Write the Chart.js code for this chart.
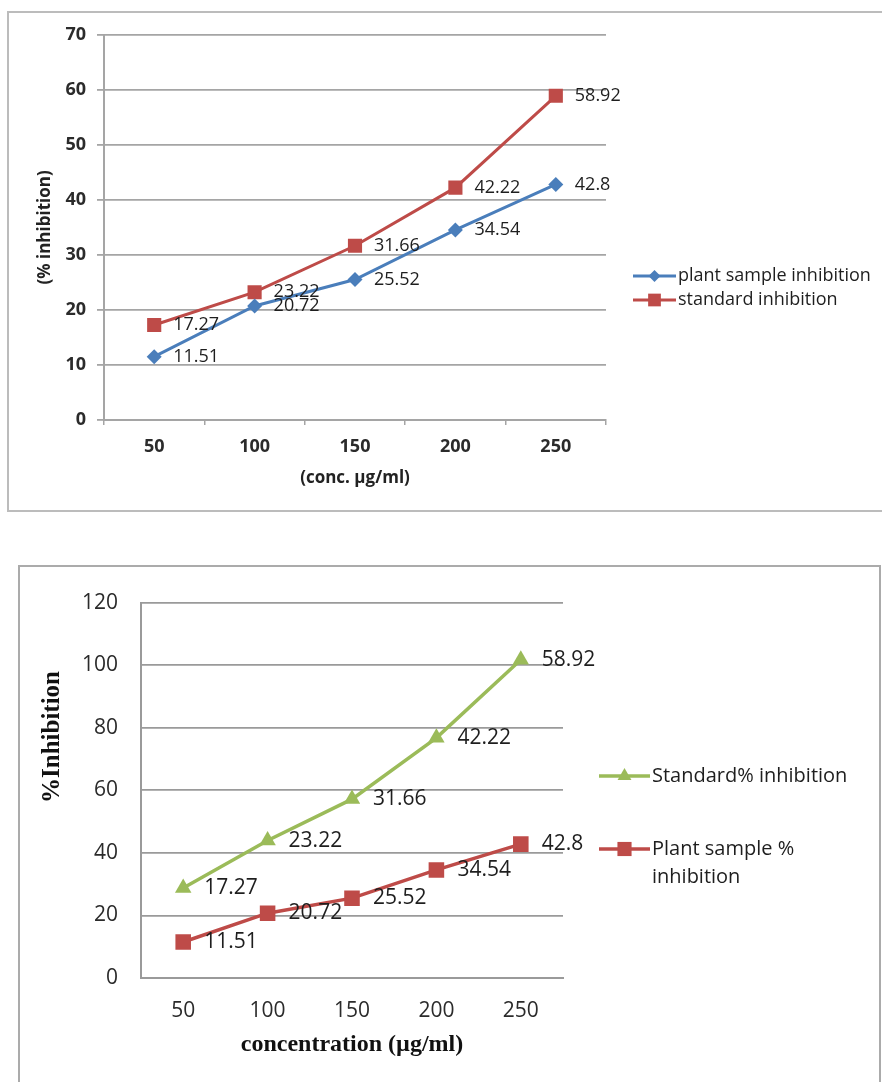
<!DOCTYPE html>
<html>
<head>
<meta charset="utf-8">
<title>% inhibition vs concentration</title>
<script src="https://cdn.jsdelivr.net/npm/chart.js@4.4.1/dist/chart.umd.min.js"></script>
<style>
  html, body { margin: 0; padding: 0; background: #fff; overflow: hidden; width: 882px; height: 1082px; }
  .frame { position: absolute; box-sizing: content-box; border: 2px solid #bcbcbc; background: #fff; }
  #frameTop { left: 7px; top: 11px; width: 878px; height: 497px; }
  #frameBottom { left: 18px; top: 565px; width: 859px; height: 520px; border-color: #ababab; }
  .frame canvas { display: block; }
</style>
</head>
<body>
<div class="frame" id="frameTop"><canvas id="chartTop" width="878" height="497"></canvas></div>
<div class="frame" id="frameBottom"><canvas id="chartBottom" width="859" height="520"></canvas></div>

<script>
// ---- data ----
const concentrations = ['50', '100', '150', '200', '250'];

// first graph
const plantSampleInhibition = [11.51, 20.72, 25.52, 34.54, 42.8];
const standardInhibition = [17.27, 23.22, 31.66, 42.22, 58.92];
const yAxisTop = [0, 70, 10];      // min, max, step

// second graph (standard series is stacked on top of the plant sample series)
const plantSamplePercent = [11.51, 20.72, 25.52, 34.54, 42.8];
const standardPercent = [17.27, 23.22, 31.66, 42.22, 58.92];
const yAxisBottom = [0, 120, 20];  // min, max, step

// ---- look ----
const SANS = "'Open Sans', 'DejaVu Sans', sans-serif";
const SERIF = "'Liberation Serif', 'Times New Roman', serif";
const BLUE = '#4a7ebb';
const RED = '#be4b48';
const GREEN = '#9bbb59';

function marker(ctx, style, radius, x, y) {
  if (Chart.helpers && Chart.helpers.drawPoint) {
    Chart.helpers.drawPoint(ctx, { pointStyle: style, radius: radius, rotation: 0, borderWidth: 0 }, x, y);
    return;
  }
  ctx.beginPath();
  if (style === 'rect') {
    const s = radius * Math.SQRT1_2;
    ctx.rect(x - s, y - s, 2 * s, 2 * s);
  } else if (style === 'rectRot') {
    ctx.moveTo(x, y - radius); ctx.lineTo(x + radius, y);
    ctx.lineTo(x, y + radius); ctx.lineTo(x - radius, y);
  } else {
    const a = radius * Math.cos(Math.PI / 6);
    ctx.moveTo(x, y - radius); ctx.lineTo(x + a, y + radius / 2); ctx.lineTo(x - a, y + radius / 2);
  }
  ctx.closePath();
  ctx.fill();
}

// value text beside each point
const valueLabels = {
  id: 'valueLabels',
  afterDatasetsDraw(chart, args, opts) {
    const ctx = chart.ctx;
    ctx.save();
    ctx.font = opts.font;
    ctx.fillStyle = opts.color;
    ctx.textAlign = 'left';
    ctx.textBaseline = 'middle';
    chart.data.datasets.forEach((ds, di) => {
      const meta = chart.getDatasetMeta(di);
      meta.data.forEach((pt, i) => {
        ctx.fillText(String(ds.data[i]), pt.x + opts.dx, pt.y + opts.dy);
      });
    });
    ctx.restore();
  }
};

// legend with a short line through the marker
const lineLegend = {
  id: 'lineLegend',
  afterDraw(chart, args, opts) {
    const ctx = chart.ctx;
    ctx.save();
    ctx.font = opts.font;
    ctx.textAlign = 'left';
    ctx.textBaseline = 'middle';
    opts.items.forEach((item) => {
      const ds = chart.data.datasets[item.dataset];
      ctx.strokeStyle = ds.borderColor;
      ctx.lineWidth = ds.borderWidth;
      ctx.beginPath();
      ctx.moveTo(opts.x0, item.y);
      ctx.lineTo(opts.x1, item.y);
      ctx.stroke();
      ctx.fillStyle = ds.pointBackgroundColor;
      marker(ctx, ds.pointStyle, item.r, (opts.x0 + opts.x1) / 2, item.y);
      ctx.fillStyle = opts.color;
      item.text.forEach((t, k) => ctx.fillText(t, opts.textX, item.y + k * opts.lineGap));
    });
    ctx.restore();
  }
};

// free-standing rotated axis caption
const axisCaption = {
  id: 'axisCaption',
  afterDraw(chart, args, opts) {
    if (!opts.text) return;
    const ctx = chart.ctx;
    ctx.save();
    ctx.translate(opts.x, opts.y);
    ctx.rotate(-Math.PI / 2);
    ctx.font = opts.font;
    ctx.fillStyle = opts.color;
    ctx.textAlign = 'center';
    ctx.textBaseline = 'middle';
    ctx.fillText(opts.text, 0, 0);
    ctx.restore();
  }
};

// ---- first graph ----
new Chart(document.getElementById('chartTop'), {
  type: 'line',
  data: {
    labels: concentrations,
    datasets: [
      {
        label: 'plant sample inhibition',
        data: plantSampleInhibition,
        borderColor: BLUE, backgroundColor: BLUE, pointBackgroundColor: BLUE,
        borderWidth: 3, pointStyle: 'rectRot', pointRadius: 7.5, pointBorderWidth: 0,
        tension: 0, fill: false
      },
      {
        label: 'standard inhibition',
        data: standardInhibition,
        borderColor: RED, backgroundColor: RED, pointBackgroundColor: RED,
        borderWidth: 3, pointStyle: 'rect', pointRadius: 10, pointBorderWidth: 0,
        tension: 0, fill: false
      }
    ]
  },
  options: {
    responsive: false,
    animation: false,
    layout: { padding: { left: 0, top: 21, right: 281, bottom: 0 } },
    scales: {
      x: {
        offset: true,
        grid: { display: true, drawOnChartArea: false, drawTicks: true, tickLength: 5, offset: true, color: '#a5a5a5', lineWidth: 1.5 },
        border: { display: true, color: '#a5a5a5', width: 2 },
        ticks: { color: '#2b2b2b', font: { family: SANS, size: 18, weight: 'bold' }, padding: 11, maxRotation: 0 },
        title: { display: true, text: '(conc. µg/ml)', color: '#222', font: { family: SANS, size: 17, weight: 'bold' }, padding: { top: 0, bottom: 22 } },
        afterFit(scale) { scale.height = 90; }
      },
      y: {
        min: yAxisTop[0], max: yAxisTop[1],
        grid: { color: '#a5a5a5', lineWidth: 1.8, drawTicks: true, tickLength: 7 },
        border: { display: true, color: '#a5a5a5', width: 2 },
        ticks: { stepSize: yAxisTop[2], color: '#2b2b2b', font: { family: SANS, size: 18, weight: 'bold' }, padding: 11 },
        title: { display: true, text: '(% inhibition)', color: '#222', font: { family: SANS, size: 17, weight: 'bold' }, padding: { top: 26, bottom: 0 } },
        afterFit(scale) { scale.width = 95; }
      }
    },
    plugins: {
      legend: { display: false },
      tooltip: { enabled: false },
      valueLabels: { font: '18px ' + SANS, color: '#1e1e1e', dx: 19, dy: 0 },
      lineLegend: {
        font: '18px ' + SANS, color: '#1e1e1e',
        x0: 624, x1: 667, textX: 669, lineGap: 22,
        items: [
          { dataset: 0, y: 263, r: 6, text: ['plant sample inhibition'] },
          { dataset: 1, y: 287, r: 9, text: ['standard inhibition'] }
        ]
      }
    }
  },
  plugins: [valueLabels, lineLegend]
});

// ---- second graph ----
new Chart(document.getElementById('chartBottom'), {
  type: 'line',
  data: {
    labels: concentrations,
    datasets: [
      {
        label: 'Plant sample % inhibition',
        data: plantSamplePercent,
        borderColor: RED, backgroundColor: RED, pointBackgroundColor: RED,
        borderWidth: 3.5, pointStyle: 'rect', pointRadius: 11, pointBorderWidth: 0,
        tension: 0, fill: false
      },
      {
        label: 'Standard% inhibition',
        data: standardPercent,
        borderColor: GREEN, backgroundColor: GREEN, pointBackgroundColor: GREEN,
        borderWidth: 3.5, pointStyle: 'triangle', pointRadius: 9.5, pointBorderWidth: 0,
        tension: 0, fill: false
      }
    ]
  },
  options: {
    responsive: false,
    animation: false,
    layout: { padding: { left: 0, top: 25, right: 316, bottom: 0 } },
    scales: {
      x: {
        offset: true,
        grid: { display: true, drawOnChartArea: false, drawTicks: false, offset: true, color: '#9a9a9a' },
        border: { display: true, color: '#9a9a9a', width: 2 },
        ticks: { color: '#2b2b2b', font: { family: SANS, size: 21 }, padding: 20, maxRotation: 0 },
        title: { display: true, text: 'concentration (µg/ml)', color: '#111', font: { family: SERIF, size: 24, weight: 'bold' }, padding: { top: 0, bottom: 28 } },
        afterFit(scale) { scale.height = 109; }
      },
      y: {
        stacked: true,
        min: yAxisBottom[0], max: yAxisBottom[1],
        grid: { color: '#9a9a9a', lineWidth: 1.8, drawTicks: false },
        border: { display: true, color: '#9a9a9a', width: 2 },
        ticks: { stepSize: yAxisBottom[2], color: '#2b2b2b', font: { family: SANS, size: 21 }, padding: 23 },
        afterFit(scale) { scale.width = 121; }
      }
    },
    plugins: {
      legend: { display: false },
      tooltip: { enabled: false },
      valueLabels: { font: '21px ' + SANS, color: '#1e1e1e', dx: 21, dy: 0 },
      lineLegend: {
        font: '20px ' + SANS, color: '#1e1e1e',
        x0: 579, x1: 630, textX: 632, lineGap: 28,
        items: [
          { dataset: 1, y: 209, r: 8, text: ['Standard% inhibition'] },
          { dataset: 0, y: 282, r: 10, text: ['Plant sample %', 'inhibition'] }
        ]
      },
      axisCaption: { text: '%Inhibition', x: 33, y: 170, font: 'bold 25px ' + SERIF, color: '#111' }
    }
  },
  plugins: [valueLabels, lineLegend, axisCaption]
});
</script>
</body>
</html>
